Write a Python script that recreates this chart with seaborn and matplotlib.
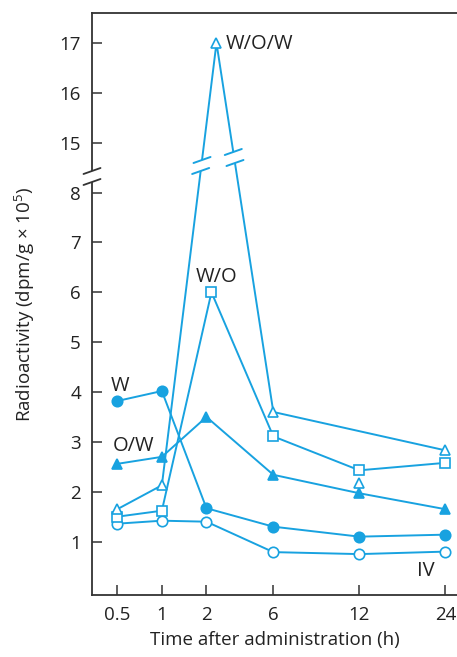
# -*- coding: utf-8 -*-
"""
Radioactivity vs time after administration, broken y axis
"""

import numpy as np
import pandas as pd
import matplotlib
matplotlib.use('Agg')
import matplotlib.pyplot as plt
import seaborn as sns

# Data
times = [0.5, 1, 2, 6, 12, 24]
time_labels = ['0.5', '1', '2', '6', '12', '24']

w_vals = [3.82, 4.02, 1.67, 1.30, 1.10, 1.14]        # W, filled circle
iv_vals = [1.36, 1.42, 1.40, 0.79, 0.75, 0.80]       # IV, open circle
ow_vals = [2.56, 2.70, 3.50, 2.34, 1.97, 1.65]       # O/W, filled triangle
wo_times = [0.5, 1, 2.3, 6, 12, 24]
wo_vals = [1.50, 1.62, 6.0, 3.11, 2.43, 2.58]        # W/O, open square
wow_times = [0.5, 1, 2.6, 6, 12, 24]
wow_vals = [1.65, 2.13, 17.0, 3.60, 2.18, 2.83]      # W/O/W, open triangle
wow_line_skip = 12                                   # 12 h point is not on the line

ylow_ticks = [1, 2, 3, 4, 5, 6, 7, 8]
yhigh_ticks = [15, 16, 17]

BLUE = '#18a2e0'
DARK = '#333333'
TXT = '#222222'

# x axis: uneven spacing of the time points
x_pos = [0, 1, 2, 3.5, 5.43, 7.36]
x_src = [-10] + times + [100]
x_dst = [-21] + x_pos + [7.36 + 76 * (1.93 / 12)]


def fwd_x(t):
    return np.interp(t, x_src, x_dst)


def inv_x(p):
    return np.interp(p, x_dst, x_src)


# y axis: squeeze the 8.4 - 14.6 gap
y_src = [-100, 8.4, 14.6, 100]
y_dst = [-100, 8.4, 8.6, 94]


def fwd_y(v):
    return np.interp(v, y_src, y_dst)


def inv_y(v):
    return np.interp(v, y_dst, y_src)


def main():
    sns.set_style('ticks')
    plt.rcParams['font.family'] = ['Open Sans', 'DejaVu Sans']
    plt.rcParams['mathtext.fontset'] = 'custom'
    plt.rcParams['mathtext.rm'] = 'Open Sans'
    plt.rcParams['mathtext.it'] = 'Open Sans:italic'

    W, H = 457, 657
    fig = plt.figure(figsize=(W / 100, H / 100), dpi=100)
    ax = fig.add_axes([92 / W, (H - 595) / H, (W - 92) / W, (595 - 13) / H])

    ax.set_xscale('function', functions=(fwd_x, inv_x))
    ax.set_yscale('function', functions=(fwd_y, inv_y))

    line_kw = dict(color=BLUE, linewidth=1.4, markersize=7.5,
                   markeredgewidth=1.2, markeredgecolor=BLUE, clip_on=False)

    # W - filled circle
    sns.lineplot(x=times, y=w_vals, ax=ax, marker='o', markerfacecolor=BLUE,
                 estimator=None, **line_kw)
    # IV - open circle
    sns.lineplot(x=times, y=iv_vals, ax=ax, marker='o', markerfacecolor='white',
                 estimator=None, **line_kw)
    # O/W - filled triangle
    sns.lineplot(x=times, y=ow_vals, ax=ax, marker='^', markerfacecolor=BLUE,
                 estimator=None, **line_kw)
    # W/O - open square
    sns.lineplot(x=wo_times, y=wo_vals, ax=ax, marker='s', markerfacecolor='white',
                 estimator=None, **dict(line_kw, markersize=7))
    # W/O/W - open triangle, line skips the 12 h point
    wow = pd.DataFrame({'t': wow_times, 'v': wow_vals})
    wow_line = wow[wow['t'] != wow_line_skip]
    sns.lineplot(data=wow_line, x='t', y='v', ax=ax, estimator=None,
                 color=BLUE, linewidth=1.4)
    ax.plot(wow['t'], wow['v'], linestyle='none', marker='^',
            markerfacecolor='white', markeredgecolor=BLUE, markersize=7.5,
            markeredgewidth=1.2, zorder=5, clip_on=False)

    ax.set_xlim(inv_x(-0.567), inv_x(7.62))
    ax.set_ylim(-0.07, 17.6)

    ax.set_xticks(times)
    ax.set_xticklabels(time_labels)
    ax.set_yticks(ylow_ticks + yhigh_ticks)
    ax.set_yticklabels([str(v) for v in ylow_ticks + yhigh_ticks])
    ax.minorticks_off()

    ax.tick_params(axis='both', direction='in', length=7, width=1.1,
                   color=DARK, labelsize=13.5, labelcolor=TXT, pad=8)
    for s in ['left', 'bottom', 'top']:
        ax.spines[s].set_color(DARK)
        ax.spines[s].set_linewidth(1.3)
    ax.spines['right'].set_visible(False)

    ax.set_xlabel('Time after administration (h)', fontsize=13.5, color=TXT, labelpad=5)
    ax.set_ylabel(r'Radioactivity (dpm/g × 10$^{5}$)', fontsize=13.5, color=TXT, labelpad=16)

    # series labels
    lab_kw = dict(textcoords='offset points', fontsize=14.5, color=TXT,
                  va='center', ha='center')
    ax.annotate('W/O/W', xy=(wow_times[2], wow_vals[2]), xytext=(7, -1),
                **dict(lab_kw, ha='left'))
    ax.annotate('W/O', xy=(wo_times[2], wo_vals[2]), xytext=(3.5, 11), **lab_kw)
    ax.annotate('W', xy=(times[0], w_vals[0]), xytext=(2, 11), **lab_kw)
    ax.annotate('O/W', xy=(times[0], ow_vals[0]), xytext=(12, 13), **lab_kw)
    ax.annotate('IV', xy=(times[-1], iv_vals[-1]), xytext=(-14, -14), **lab_kw)

    # break marks (pixel space, origin bottom-left)
    fig.canvas.draw()
    td = ax.transData

    def px(y_top):
        return H - y_top

    def gap_and_slashes(xa, ya, xb, yb, width, color, lw):
        # white gap between two slashes drawn across a line
        fig.add_artist(plt.Line2D([xa, xb], [ya, yb], transform=None,
                                  color='white', linewidth=width, zorder=10,
                                  solid_capstyle='butt'))
        for (xc, yc) in [(xa, ya), (xb, yb)]:
            fig.add_artist(plt.Line2D([xc - 8.5, xc + 8.5], [yc - 3, yc + 3],
                                      transform=None, color=color,
                                      linewidth=lw, zorder=11))

    # axis break
    x_sp = td.transform((ax.get_xlim()[0], 1))[0]
    gap_and_slashes(x_sp, px(171), x_sp, px(182), 4, DARK, 1.3)

    # breaks on both legs of the W/O/W peak
    p_top = td.transform((wow_times[2], wow_vals[2]))
    for i in (1, 3):
        p = td.transform((wow_times[i], wow_vals[i]))
        if i == 1:
            ys = (px(160), px(171))
        else:
            ys = (px(152), px(163))
        pts = []
        for yy in ys:
            t = (yy - p[1]) / (p_top[1] - p[1])
            pts.append((p[0] + t * (p_top[0] - p[0]), yy))
        gap_and_slashes(pts[0][0], pts[0][1], pts[1][0], pts[1][1], 5, BLUE, 1.4)

    fig.savefig('out.png', dpi=100)


if __name__ == '__main__':
    main()
